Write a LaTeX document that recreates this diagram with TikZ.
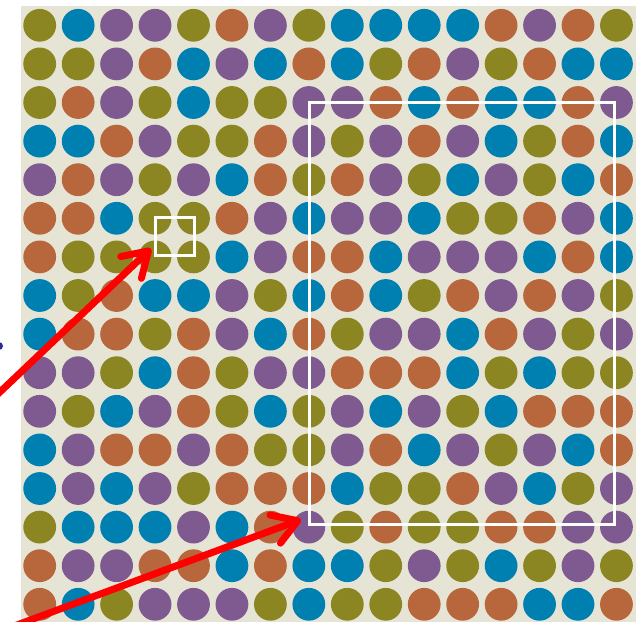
\documentclass[tikz,border=0pt]{standalone}
\usetikzlibrary{arrows.meta}
\definecolor{O}{HTML}{8B8522}
\definecolor{B}{HTML}{0080B0}
\definecolor{P}{HTML}{7F5A91}
\definecolor{R}{HTML}{B8663C}
\definecolor{bg}{HTML}{E6E5D5}
\definecolor{navy}{HTML}{2A2A9A}
\begin{document}
\begin{tikzpicture}[x=1pt,y=-1pt,
  dot/.style={circle,inner sep=0pt,minimum size=32.8pt},
  frame/.style={draw=white,line width=3pt},
  pointer/.style={draw=red,line width=7pt,line cap=round,
    -{Straight Barb[length=24pt,width=30pt,round]}}]
\useasboundingbox (0,0) rectangle (636,621);
\fill[bg] (21,6) rectangle (640,625);
\foreach \row [count=\j from 0] in {
  {O,B,P,P,O,R,P,O,B,B,B,B,R,P,R,O},
  {O,O,P,R,B,P,B,R,B,O,R,P,O,R,B,B},
  {O,R,P,O,B,O,O,P,P,R,B,R,B,B,R,P},
  {B,B,R,P,O,O,R,P,O,P,R,P,B,O,R,B},
  {P,R,P,O,P,B,R,O,R,P,O,B,P,O,B,R},
  {R,R,B,O,O,R,P,B,P,P,B,O,O,R,P,B},
  {R,O,O,O,O,B,P,R,R,B,P,P,P,B,R,B},
  {B,O,R,B,B,P,O,B,R,B,O,R,P,R,P,O},
  {B,R,R,O,R,P,B,R,O,P,P,B,R,P,O,P},
  {P,P,O,B,R,O,P,P,R,R,R,B,O,B,O,O},
  {P,O,B,P,R,O,B,O,P,B,P,O,B,R,R,R},
  {B,P,R,R,P,R,O,O,P,R,B,P,O,P,B,R},
  {B,P,B,P,O,R,R,R,B,O,O,R,P,B,O,P},
  {O,B,B,B,P,B,R,P,O,R,O,O,R,R,P,P},
  {R,P,P,R,R,B,R,B,B,O,P,O,B,O,P,O},
  {R,B,O,P,P,P,O,B,O,O,R,R,R,B,B,R}}
  \foreach \c [count=\i from 0] in \row
    \node[dot,fill=\c] (d-\j-\i) at (39.7+38.45*\i,25.3+38.6*\j) {};
% frames
\draw[frame] (309,102.7) rectangle (614.7,524);
\draw[frame] (155.3,217.3) rectangle (194,255.3);
% pointers
\coordinate (tailA) at (-20,411);
\coordinate (tipA) at (151,248.5);
\coordinate (tailB) at (-10,635);
\coordinate (tipB) at (301,519.5);
\draw[pointer] (tailA) -- (tipA);
\draw[pointer] (tailB) -- (tipB);
\fill[navy] (-1,346) circle (4);
\end{tikzpicture}
\end{document}
